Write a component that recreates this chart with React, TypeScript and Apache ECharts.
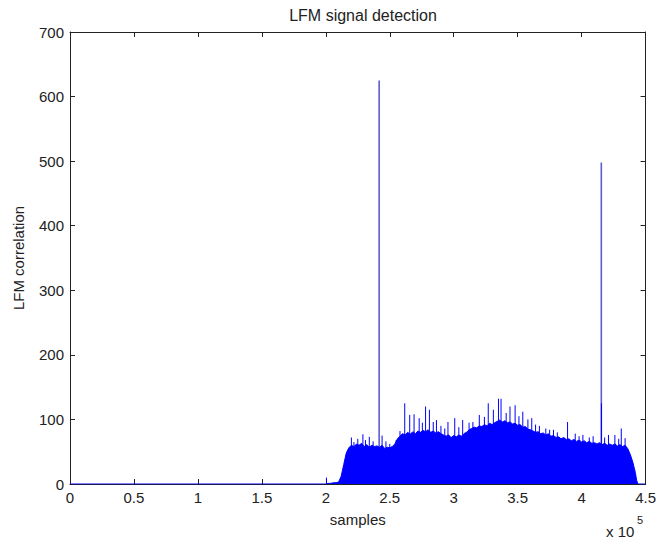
import React, { useEffect, useRef } from "react";
import * as echarts from "echarts";

const TITLE = "LFM signal detection";
const X_NAME = "samples";
const Y_NAME = "LFM correlation";
const X_SCALE_NOTE = "x 10";
const X_SCALE_EXP = "5";

// x in units of 1e5 samples
const envelope: [number, number][] = [
  [0, 0], [2.0, 0], [2.02, 1], [2.04, 1], [2.06, 2], [2.08, 2], [2.1, 3], [2.12, 12], [2.14, 30], [2.16, 48],
  [2.18, 56], [2.2, 60], [2.22, 58], [2.24, 62], [2.26, 60], [2.28, 63], [2.3, 58], [2.32, 61], [2.34, 57], [2.36, 60],
  [2.38, 58], [2.4, 59], [2.42, 57], [2.44, 60], [2.46, 55], [2.48, 57], [2.5, 56], [2.52, 58], [2.54, 62], [2.56, 70],
  [2.58, 74], [2.6, 78], [2.62, 76], [2.64, 80], [2.66, 77], [2.68, 81], [2.7, 78], [2.72, 82], [2.74, 80], [2.76, 83],
  [2.78, 81], [2.8, 84], [2.82, 80], [2.84, 82], [2.86, 79], [2.88, 81], [2.9, 78], [2.92, 76], [2.94, 74], [2.96, 76],
  [2.98, 72], [3.0, 75], [3.02, 73], [3.04, 76], [3.06, 74], [3.08, 78], [3.1, 80], [3.12, 84], [3.14, 86], [3.16, 88],
  [3.18, 87], [3.2, 90], [3.22, 89], [3.24, 92], [3.26, 90], [3.28, 94], [3.3, 92], [3.32, 95], [3.34, 97], [3.36, 99],
  [3.38, 96], [3.4, 98], [3.42, 95], [3.44, 96], [3.46, 93], [3.48, 94], [3.5, 91], [3.52, 92], [3.54, 88], [3.56, 89],
  [3.58, 85], [3.6, 84], [3.62, 82], [3.64, 80], [3.66, 81], [3.68, 78], [3.7, 79], [3.72, 76], [3.74, 78], [3.76, 74],
  [3.78, 75], [3.8, 72], [3.82, 73], [3.84, 70], [3.86, 72], [3.88, 69], [3.9, 70], [3.92, 67], [3.94, 69], [3.96, 66],
  [3.98, 68], [4.0, 65], [4.02, 67], [4.04, 64], [4.06, 66], [4.08, 63], [4.1, 64], [4.12, 62], [4.14, 64], [4.16, 61],
  [4.18, 63], [4.2, 60], [4.22, 62], [4.24, 60], [4.26, 62], [4.28, 59], [4.3, 61], [4.32, 58], [4.34, 60], [4.36, 55],
  [4.38, 46], [4.4, 34], [4.42, 18], [4.43, 6], [4.44, 0], [4.5, 0],
];

const spikes: [number, number][] = [
  [2.005, 10], [2.2, 72], [2.22, 65], [2.25, 70], [2.29, 77], [2.31, 68], [2.34, 73], [2.37, 66], [2.44, 75],
  [2.47, 66], [2.5, 62], [2.55, 68], [2.58, 82], [2.617, 125], [2.656, 107], [2.69, 108], [2.73, 102],
  [2.755, 95], [2.78, 120], [2.81, 115], [2.84, 96], [2.865, 99], [2.9, 90], [2.93, 86], [2.955, 96],
  [3.008, 102], [3.04, 88], [3.07, 99], [3.12, 95], [3.15, 96], [3.2, 107], [3.24, 104], [3.27, 125],
  [3.31, 115], [3.35, 132], [3.37, 132], [3.41, 110], [3.44, 120], [3.48, 122], [3.51, 105], [3.54, 112],
  [3.58, 100], [3.61, 102], [3.64, 92], [3.67, 90], [3.72, 86], [3.75, 84], [3.78, 84], [3.81, 80],
  [3.84, 71], [3.89, 96], [3.95, 78], [3.98, 74], [4.01, 76], [4.06, 72], [4.09, 74], [4.155, 125],
  [4.18, 72], [4.21, 76], [4.26, 76], [4.29, 70], [4.31, 86], [4.34, 71],
];

const peaks: [number, number][] = [
  [2.417, 625],
  [4.154, 498],
];

const X_MIN = 0;
const X_MAX = 4.5;
const X_STEP = 0.5;
const Y_MIN = 0;
const Y_MAX = 700;
const Y_STEP = 100;

const FONT = "'Liberation Sans', Arial, Helvetica, sans-serif";
const INK = "#222222";
const BLUE = "#0000ff";

function toStems(list: [number, number][]): any[] {
  const out: any[] = [];
  for (const [x, h] of list) {
    out.push([x, 0], [x, h], [x, "-"]);
  }
  return out;
}

export default function App() {
  const ref = useRef<HTMLDivElement>(null);

  useEffect(() => {
    if (!ref.current) return;
    const chart = echarts.init(ref.current, undefined, { renderer: "svg" });

    const axisLine = { show: true, onZero: false, lineStyle: { color: INK, width: 1 } };
    const axisTick = { show: true, inside: true, length: 5, lineStyle: { color: INK, width: 1 } };
    const label = { color: INK, fontSize: 15, fontFamily: FONT };

    chart.setOption({
      animation: false,
      backgroundColor: "#ffffff",
      title: {
        text: TITLE,
        left: 358,
        top: 2,
        textAlign: "center",
        textStyle: { color: INK, fontSize: 16, fontWeight: "normal", fontFamily: FONT },
      },
      grid: { left: 70, right: 13, top: 32, bottom: 60, containLabel: false },
      xAxis: [
        {
          type: "value",
          min: X_MIN,
          max: X_MAX,
          interval: X_STEP,
          position: "bottom",
          name: X_NAME,
          nameLocation: "middle",
          nameGap: 28,
          nameTextStyle: { color: INK, fontSize: 15, fontFamily: FONT },
          axisLine,
          axisTick,
          axisLabel: { ...label, margin: 6, formatter: (v: number) => String(Math.round(v * 10) / 10) },
          splitLine: { show: false },
        },
        {
          type: "value",
          min: X_MIN,
          max: X_MAX,
          interval: X_STEP,
          position: "top",
          axisLine,
          axisTick,
          axisLabel: { show: false },
          splitLine: { show: false },
        },
      ],
      yAxis: [
        {
          type: "value",
          min: Y_MIN,
          max: Y_MAX,
          interval: Y_STEP,
          position: "left",
          name: Y_NAME,
          nameLocation: "middle",
          nameGap: 44,
          nameTextStyle: { color: INK, fontSize: 15, fontFamily: FONT },
          axisLine,
          axisTick,
          axisLabel: { ...label, margin: 6 },
          splitLine: { show: false },
        },
        {
          type: "value",
          min: Y_MIN,
          max: Y_MAX,
          interval: Y_STEP,
          position: "right",
          axisLine,
          axisTick,
          axisLabel: { show: false },
          splitLine: { show: false },
        },
      ],
      graphic: [
        {
          type: "text",
          left: 606,
          top: 524,
          style: { text: X_SCALE_NOTE, fill: INK, font: `15px ${FONT}` },
        },
        {
          type: "text",
          left: 637,
          top: 514,
          style: { text: X_SCALE_EXP, fill: INK, font: `11px ${FONT}` },
        },
      ],
      series: [
        {
          type: "line",
          data: toStems(peaks),
          symbol: "none",
          connectNulls: false,
          lineStyle: { color: "#5c5cd0", width: 1.6 },
          z: 1,
        },
        {
          type: "line",
          data: envelope,
          symbol: "none",
          lineStyle: { color: BLUE, width: 1 },
          areaStyle: { color: BLUE, opacity: 1 },
          z: 2,
        },
        {
          type: "line",
          data: toStems(spikes),
          symbol: "none",
          connectNulls: false,
          lineStyle: { color: BLUE, width: 1 },
          z: 3,
        },
      ],
    });

    return () => {
      chart.dispose();
    };
  }, []);

  return (
    <div
      ref={ref}
      style={{ position: "fixed", left: 0, top: 0, width: 659, height: 544, background: "#fff" }}
    />
  );
}
